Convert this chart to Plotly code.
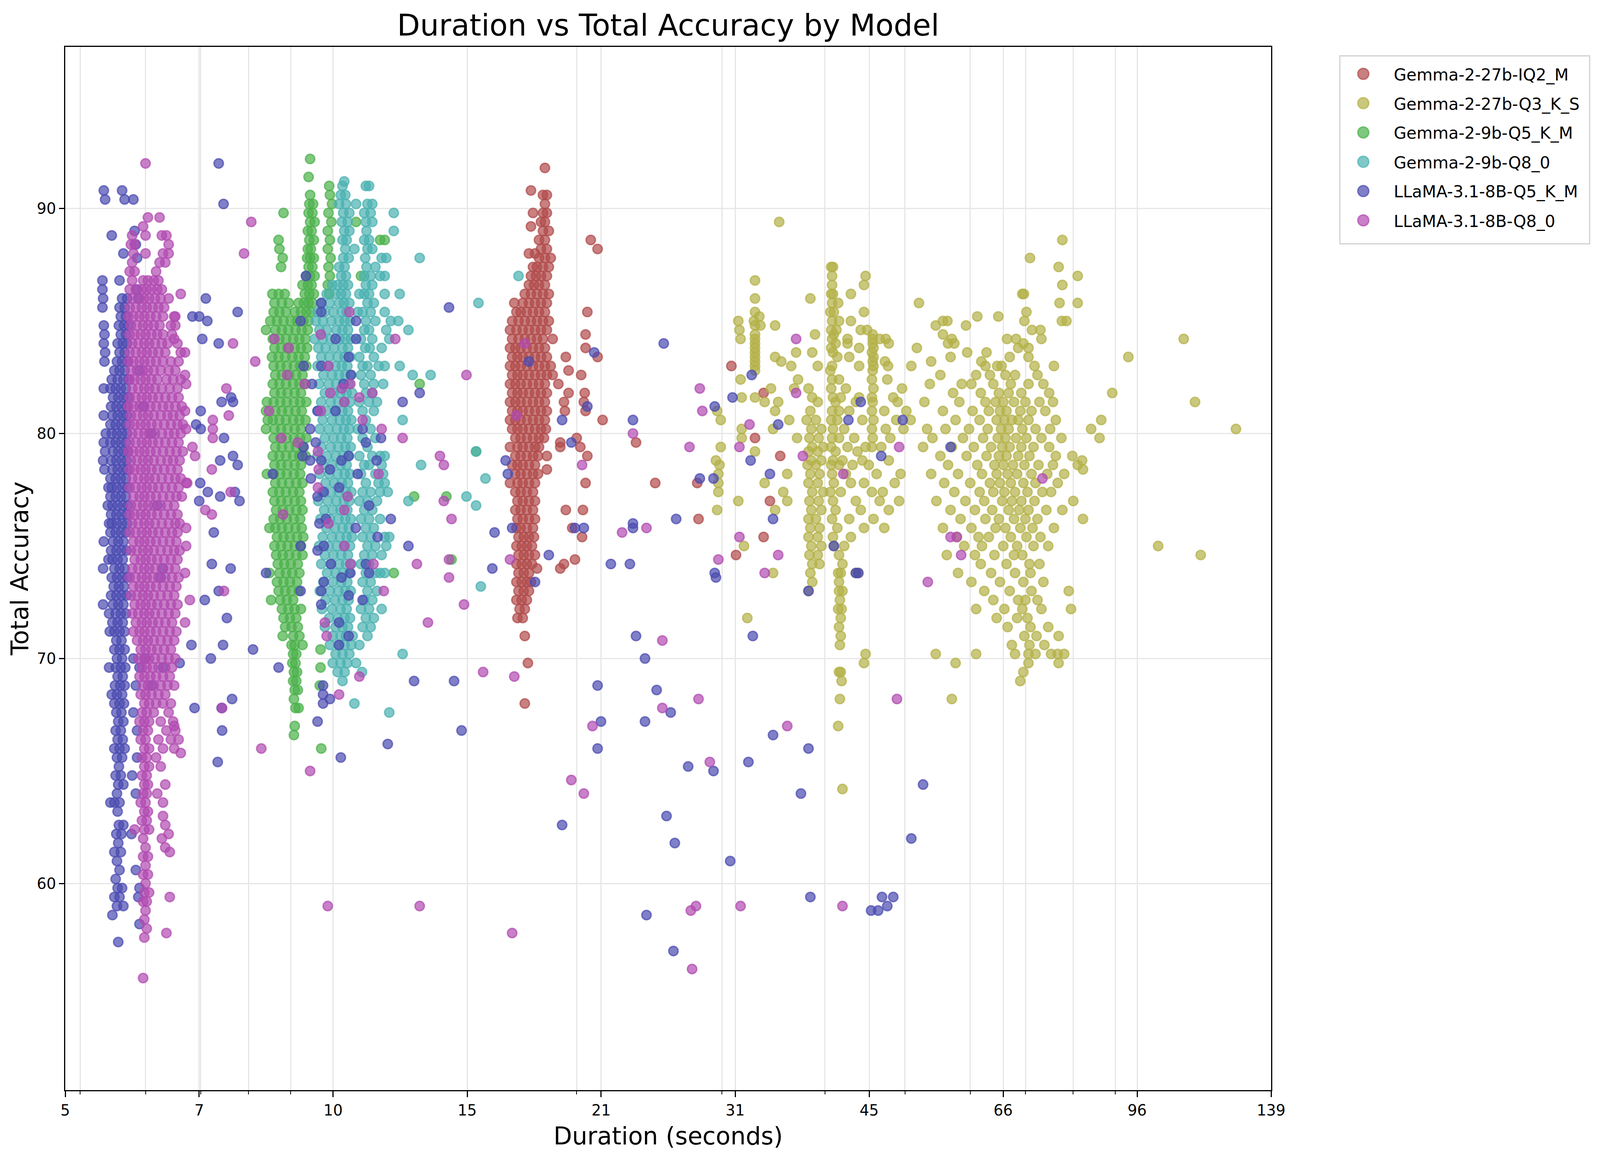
import plotly.graph_objects as go

MODELS = [
    "Gemma-2-27b-IQ2_M",
    "Gemma-2-27b-Q3_K_S",
    "Gemma-2-9b-Q5_K_M",
    "Gemma-2-9b-Q8_0",
    "LLaMA-3.1-8B-Q5_K_M",
    "LLaMA-3.1-8B-Q8_0",
]
COLORS = ["#b14a4a", "#b3b047", "#4ab14a", "#4ab1b1", "#4a4ab1", "#b14ab1"]

X_TICKS = [4.795, 6.97, 10.13, 14.73, 21.41, 31.13, 45.25, 65.78, 95.63, 139.0]
X_TICK_LABELS = ["5", "7", "10", "15", "21", "31", "45", "66", "96", "139"]
X_MINOR = [5, 6, 7, 8, 9, 20, 30, 40, 50, 60, 70, 80, 90]
Y_TICKS = [60, 70, 80, 90]

# rows are (total accuracy, [durations]); points are (duration, accuracy)
iq2_rows = [
    (91.8, [18.3]), (90.8, [17.6]), (90.6, [18.2, 18.4]), (90.2, [18.3]),
    (89.8, [17.7, 18.2, 18.4]), (89.4, [18.1, 18.3]), (89.2, [17.6]),
    (89.0, [18.2, 18.5]), (88.6, [18.0, 18.3, 20.8]), (88.2, [18.1, 18.4, 21.2]),
    (88.0, [17.5, 17.8]), (87.8, [18.0, 18.3, 18.6]), (87.4, [17.7, 17.9, 18.2, 18.5]),
    (87.0, [17.6, 17.85, 18.1, 18.4]), (86.6, [17.5, 17.75, 18.0, 18.3]),
    (86.2, [17.3, 17.6, 17.9, 18.2, 18.5]), (85.8, [16.8, 17.2, 17.5, 17.8, 18.1, 18.4]),
    (85.4, [16.9, 17.1, 17.4, 17.7, 18.0, 18.3, 20.6]),
    (85.0, [16.7, 17.0, 17.3, 17.6, 17.9, 18.2, 18.5]),
    (84.6, [16.6, 16.9, 17.2, 17.5, 17.8, 18.1, 18.4]),
    (84.2, [16.7, 17.0, 17.3, 17.6, 17.9, 18.2, 18.7]),
    (84.4, [20.5]), (83.8, [16.6, 16.85, 17.1, 17.4, 17.7, 18.0, 18.3, 20.5]),
    (83.4, [16.7, 16.95, 17.2, 17.5, 17.8, 18.1, 18.4, 19.4, 21.2]),
    (83.0, [16.6, 16.85, 17.1, 17.4, 17.7, 18.0, 18.3, 18.6, 30.8]),
    (82.8, [19.55]), (82.6, [16.7, 16.95, 17.2, 17.5, 17.8, 18.1, 18.4, 18.7, 20.25]),
    (82.2, [16.6, 16.85, 17.1, 17.4, 17.7, 18.0, 18.3, 19.0]),
    (81.8, [16.7, 16.95, 17.2, 17.5, 17.8, 18.1, 18.4, 19.55, 20.45, 33.7]),
    (81.4, [16.6, 16.85, 17.1, 17.4, 17.7, 18.0, 18.3, 19.3, 20.4]),
    (81.0, [16.7, 16.95, 17.2, 17.5, 17.8, 18.1, 18.4, 19.35, 20.5]),
    (80.6, [16.6, 16.85, 17.1, 17.4, 17.7, 18.0, 18.3, 21.5]),
    (80.2, [16.7, 16.95, 17.2, 17.5, 17.8, 18.1, 18.35]),
    (79.8, [16.85, 17.1, 17.4, 17.7, 18.0, 18.25, 20.0, 32.9]),
    (79.6, [19.1, 23.6]), (79.4, [16.6, 16.95, 17.2, 17.5, 17.8, 18.0, 19.1, 20.2]),
    (79.0, [16.85, 17.1, 17.4, 17.7, 17.95, 18.4, 20.6, 35.3]),
    (78.6, [16.7, 16.95, 17.2, 17.5, 17.8]), (78.4, [18.4]),
    (78.2, [16.85, 17.1, 17.4, 17.7, 17.95]),
    (77.8, [16.6, 16.95, 17.2, 17.5, 17.8, 20.5, 24.9, 28.0]),
    (77.4, [16.85, 17.1, 17.4, 17.7]), (77.0, [16.95, 17.2, 17.5, 17.8, 34.3]),
    (76.6, [16.85, 17.1, 17.4, 17.7, 19.4, 20.35]), (76.2, [16.95, 17.2, 17.5, 17.8, 28.1]),
    (75.8, [16.9, 17.1, 17.4, 17.7, 19.75]), (75.4, [17.0, 17.25, 17.5, 17.75, 20.3, 33.7]),
    (75.0, [16.9, 17.15, 17.4, 17.65]), (74.6, [17.0, 17.25, 17.5, 17.8, 31.2]),
    (74.4, [19.9]), (74.2, [16.9, 17.15, 17.4, 17.65, 19.3]),
    (74.0, [17.9, 19.1]), (73.8, [17.0, 17.25, 17.5]), (73.4, [16.9, 17.15, 17.4, 17.6]),
    (73.0, [17.0, 17.25, 17.5]), (72.6, [16.9, 17.15, 17.4]), (72.2, [17.05, 17.3]),
    (71.8, [16.95, 17.2]), (71.0, [17.3]), (69.8, [17.45]), (68.0, [17.3]),
]

q3_rows = [
    (89.4, [35.2]), (88.6, [77.6]), (87.8, [70.9]), (87.4, [40.7, 40.9, 76.8]),
    (87.0, [40.8, 44.8, 81.0]), (86.8, [32.9]), (86.6, [40.8, 44.6, 77.6]),
    (86.2, [40.7, 40.9, 43.0, 69.4, 69.7]), (86.0, [32.9, 38.4]),
    (85.8, [40.8, 41.5, 52.0, 77.0, 81.0]), (85.4, [32.9, 40.6, 41.0, 44.6, 70.2]),
    (85.2, [33.3, 61.2, 64.9]),
    (85.0, [31.4, 32.8, 40.8, 41.6, 43.0, 55.6, 56.3, 69.8, 77.5, 78.5]),
    (84.8, [32.9, 33.4, 34.8, 54.5, 59.3]),
    (84.6, [31.5, 40.7, 41.3, 44.2, 45.0, 71.3, 73.0]),
    (84.4, [32.9, 38.9, 41.0, 45.7, 55.6]),
    (84.2, [31.6, 32.9, 40.8, 42.6, 45.7, 46.6, 47.4, 57.0, 66.5, 68.2, 73.2, 108.9]),
    (84.0, [32.9, 41.2, 42.6, 45.7, 47.8, 56.4, 57.4, 69.6]),
    (83.8, [32.9, 40.7, 44.0, 45.8, 51.7, 68.6, 70.6]),
    (83.6, [32.9, 36.9, 38.6, 40.9, 45.6, 59.5, 62.8]),
    (83.4, [32.9, 34.8, 41.4, 42.8, 45.8, 56.8, 67.0, 70.6, 93.3]),
    (83.2, [32.9, 35.4, 45.7, 47.3, 53.8, 61.9]),
    (83.0, [32.9, 36.4, 39.2, 40.8, 44.0, 45.8, 47.7, 50.9, 62.6, 64.7, 65.5, 71.8, 75.8]),
    (82.8, [32.9, 40.6, 45.7]),
    (82.6, [55.2, 61.0, 63.4, 66.2, 68.0, 72.4]),
    (82.4, [31.6, 37.1, 40.8, 41.6, 45.6, 47.6]),
    (82.2, [53.6, 58.6, 60.2, 64.0, 67.2, 70.6, 73.6]),
    (82.0, [34.4, 36.7, 38.2, 40.7, 42.4, 45.8, 49.6]),
    (81.8, [57.2, 61.8, 65.0, 66.8, 69.2, 74.8, 89.2]),
    (81.6, [31.7, 32.9, 38.6, 40.9, 41.8, 44.0, 45.6, 48.4]),
    (81.4, [33.8, 35.1, 39.2, 41.2, 43.6, 45.7, 49.0, 52.8, 58.2, 62.6, 64.4, 65.8,
            67.8, 70.0, 72.8, 75.6, 112.4]),
    (81.0, [29.6, 34.8, 38.4, 40.8, 41.6, 42.8, 45.6, 47.2, 50.2, 55.6, 60.4, 63.2,
            65.2, 66.4, 69.0, 71.2, 74.0]),
    (80.6, [29.9, 36.2, 38.0, 39.0, 40.7, 41.4, 44.4, 45.8, 48.8, 50.8, 57.6, 61.6,
            64.6, 66.0, 67.4, 68.6, 70.6, 76.2, 86.5]),
    (80.2, [31.7, 34.6, 38.5, 39.6, 40.9, 42.2, 45.6, 47.4, 49.8, 53.2, 56.0, 59.8,
            63.0, 65.4, 66.8, 69.4, 72.0, 75.0, 84.1, 126.0]),
    (79.8, [31.7, 37.0, 38.3, 39.3, 40.8, 41.6, 43.4, 45.7, 48.0, 54.0, 58.8, 62.2,
            64.8, 66.2, 68.2, 70.2, 73.2, 77.4, 86.1]),
    (79.4, [29.9, 38.6, 39.8, 40.7, 42.6, 44.8, 45.6, 46.8, 52.6, 57.0, 60.6, 63.6,
            65.6, 67.0, 69.2, 71.6, 74.8]),
    (79.2, [32.9, 38.2, 39.2, 41.2, 43.8]),
    (79.0, [55.2, 59.4, 62.8, 65.0, 66.4, 68.6, 70.8, 76.2, 79.8]),
    (78.8, [29.5, 38.5, 39.6, 40.9, 42.0, 44.4, 47.8, 82.0]),
    (78.6, [29.8, 38.1, 39.0, 40.7, 41.6, 43.2, 45.2, 56.4, 61.2, 64.2, 65.8, 67.6,
            69.8, 72.6, 75.6, 81.0]),
    (78.4, [82.2]),
    (78.2, [29.7, 36.0, 38.4, 39.4, 40.8, 42.4, 46.2, 49.4, 53.8, 58.0, 62.0, 64.6,
            66.6, 68.4, 71.2, 74.4, 78.0]),
    (77.8, [29.7, 33.8, 38.2, 39.2, 41.0, 43.0, 44.6, 48.6, 55.8, 60.0, 63.4, 65.2,
            67.2, 69.6, 72.0, 76.6]),
    (77.4, [29.7, 35.6, 38.6, 39.8, 40.6, 41.8, 45.6, 47.0, 57.4, 61.6, 64.0, 66.0,
            68.0, 70.4, 73.4, 75.2]),
    (77.0, [31.4, 36.0, 38.3, 39.3, 40.9, 43.6, 46.6, 49.2, 54.6, 59.2, 62.4, 65.6,
            67.4, 69.2, 71.8, 80.0]),
    (76.6, [29.6, 34.8, 38.5, 39.6, 41.2, 44.2, 47.8, 56.8, 60.8, 63.8, 66.8, 68.8,
            70.6, 74.2, 77.6]),
    (76.2, [38.2, 39.0, 40.8, 42.8, 45.8, 58.4, 62.6, 65.0, 67.8, 70.0, 72.4, 82.2]),
    (75.8, [38.4, 39.4, 41.4, 44.6, 47.2, 55.6, 60.2, 64.4, 66.2, 69.0, 71.4, 75.8]),
    (75.4, [38.2, 39.2, 40.9, 43.0, 57.8, 61.4, 63.2, 67.2, 70.2, 73.0]),
    (75.0, [31.9, 38.5, 39.6, 41.0, 42.2, 59.0, 62.0, 65.8, 68.4, 71.6, 74.6, 101.4]),
    (74.6, [38.3, 39.2, 41.6, 56.2, 60.8, 64.2, 67.8, 69.4, 114.2]),
    (74.2, [38.6, 39.4, 42.0, 61.8, 66.4, 70.8, 72.8]),
    (73.8, [34.6, 38.4, 41.5, 41.8, 43.6, 43.9, 58.0, 63.6, 68.0, 71.0]),
    (73.4, [38.6, 41.6, 60.2, 65.2, 69.6, 73.6]),
    (73.0, [38.2, 41.6, 42.0, 62.4, 67.0, 71.2, 79.0]),
    (72.6, [41.7, 64.0, 68.6, 70.0, 72.4]),
    (72.2, [41.5, 41.9, 61.0, 66.0, 69.4, 73.2, 79.5]),
    (71.8, [32.2, 41.8, 64.6, 68.4, 70.4]),
    (71.4, [41.6, 66.6, 71.0, 74.6]),
    (71.0, [41.8, 69.8, 72.2, 76.8]),
    (70.6, [41.7, 67.4, 70.8, 73.8]),
    (70.2, [44.8, 54.5, 61.0, 68.0, 70.6, 72.0, 75.2, 76.6, 78.0]),
    (69.8, [44.6, 57.6, 70.6, 76.8]),
    (69.4, [41.6, 41.8, 69.6]), (69.0, [41.9, 69.0]), (68.2, [41.7, 57.0]),
    (67.0, [41.5]), (64.2, [42.0]),
]

q5_9b_rows = [
    (92.2, [9.50]), (91.4, [9.46]), (91.0, [10.02]), (90.6, [9.50, 10.04]),
    (90.2, [9.48, 9.58, 10.10]), (89.8, [8.82, 9.46, 9.56, 10.00]),
    (89.4, [9.50, 9.62, 10.08, 10.80]), (89.0, [9.44, 9.54, 9.98]),
    (88.6, [8.70, 9.48, 9.60, 10.04, 11.55, 11.70]), (88.2, [8.72, 9.44, 9.52, 9.98]),
    (87.8, [8.80, 9.42, 9.50, 9.60, 10.06]), (87.4, [8.76, 9.46, 9.56, 10.00]),
    (87.0, [9.40, 9.50, 9.62, 10.04, 10.95]), (86.6, [9.30, 9.44, 9.54, 9.98]),
    (86.2, [8.55, 8.70, 8.85, 9.36, 9.48, 9.60, 10.02]),
    (85.8, [8.60, 8.78, 8.95, 9.20, 9.34, 9.46, 9.56]),
    (85.4, [8.58, 8.72, 8.88, 9.10, 9.26, 9.40, 9.52]),
    (85.0, [8.50, 8.66, 8.82, 9.00, 9.16, 9.32, 9.46]),
    (84.6, [8.40, 8.62, 8.78, 8.94, 9.12, 9.28, 9.44]),
    (84.2, [8.56, 8.72, 8.88, 9.06, 9.22, 9.38]),
    (83.8, [8.60, 8.76, 8.92, 9.10, 9.26, 9.42]),
    (83.4, [8.54, 8.70, 8.86, 9.04, 9.20, 9.36]),
    (83.0, [8.58, 8.74, 8.90, 9.08, 9.24, 9.40]),
    (82.6, [8.62, 8.78, 8.96, 9.14, 9.30]),
    (82.2, [8.56, 8.72, 8.88, 9.06, 9.22, 9.38, 12.9]),
    (81.8, [8.60, 8.76, 8.92, 9.10, 9.26]),
    (81.4, [8.42, 8.58, 8.74, 8.90, 9.08, 9.24, 9.40]),
    (81.0, [8.40, 8.62, 8.78, 8.94, 9.12, 9.28]),
    (80.6, [8.44, 8.56, 8.72, 8.88, 9.06, 9.22, 9.38]),
    (80.2, [8.40, 8.60, 8.76, 8.92, 9.10, 9.26]),
    (79.8, [8.58, 8.74, 8.90, 9.08, 9.24, 9.40]),
    (79.4, [8.62, 8.78, 8.96, 9.14, 9.30]),
    (79.2, [15.1]),
    (79.0, [8.56, 8.72, 8.88, 9.06, 9.22, 9.38]),
    (78.6, [8.60, 8.76, 8.92, 9.10, 9.26]),
    (78.2, [8.42, 8.58, 8.74, 8.90, 9.08, 9.24]),
    (77.8, [8.62, 8.78, 8.96, 9.14, 9.30]),
    (77.4, [8.56, 8.72, 8.88, 9.06, 9.22]),
    (77.2, [12.7, 13.9]),
    (77.0, [8.60, 8.76, 8.92, 9.10, 9.26]),
    (76.6, [8.64, 8.80, 8.96, 9.14, 9.30]),
    (76.2, [8.58, 8.74, 8.90, 9.08, 9.24]),
    (75.8, [8.48, 8.62, 8.78, 8.94, 9.12, 9.28]),
    (75.4, [8.66, 8.82, 8.98, 9.16, 9.32]),
    (75.0, [8.60, 8.76, 8.92, 9.10, 9.26]),
    (74.6, [8.64, 8.80, 8.96, 9.14, 9.30]),
    (74.4, [14.1]),
    (74.2, [8.68, 8.84, 9.00, 9.18]),
    (73.8, [8.48, 8.72, 8.88, 9.04, 9.22, 12.0]),
    (73.4, [8.66, 8.82, 8.98, 9.16]),
    (73.0, [8.70, 8.86, 9.02, 9.20]),
    (72.6, [8.52, 8.74, 8.90, 9.06]),
    (72.2, [8.78, 8.94, 9.10, 9.26]),
    (71.8, [8.82, 8.98, 9.14]), (71.4, [8.86, 9.02, 9.18]), (71.0, [8.80, 9.06, 9.22]),
    (70.6, [9.02, 9.10, 9.30]), (70.4, [9.78]), (70.2, [9.06, 9.14]),
    (69.8, [9.04, 9.12]), (69.6, [9.78]), (69.4, [9.08, 9.16]), (69.0, [9.06, 9.14]),
    (68.8, [9.76]), (68.6, [9.10, 9.18]), (68.2, [9.08]), (67.8, [9.12, 9.20]),
    (67.0, [9.10]), (66.6, [9.08]), (66.0, [9.80]),
]

q8_9b_rows = [
    (91.2, [10.45]), (91.0, [10.40, 11.10, 11.20]), (90.6, [10.35, 10.48]),
    (90.2, [10.30, 10.50, 10.80, 11.15, 11.30]),
    (89.8, [10.42, 10.60, 11.05, 11.25, 12.00]),
    (89.4, [10.38, 10.55, 11.10, 11.30]), (89.0, [10.45, 10.60, 11.12, 12.00]),
    (88.6, [10.40, 10.52, 11.05, 11.20]), (88.2, [10.48, 10.75, 11.15, 11.30]),
    (87.8, [10.42, 10.58, 11.08, 11.60, 11.75, 12.90]),
    (87.4, [10.30, 10.46, 11.12, 11.40]),
    (87.0, [10.36, 10.50, 11.05, 11.25, 11.55, 11.70, 17.0]),
    (86.6, [10.10, 10.26, 10.42, 10.56, 11.10, 11.30]),
    (86.2, [9.95, 10.20, 10.36, 10.50, 10.90, 11.05, 11.20, 11.70, 12.20]),
    (85.8, [9.80, 10.04, 10.30, 10.44, 10.60, 11.15, 11.35, 15.20]),
    (85.4, [9.70, 9.90, 10.14, 10.38, 10.52, 10.85, 11.00, 11.25, 11.70]),
    (85.0, [9.65, 9.85, 10.08, 10.30, 10.46, 10.62, 11.10, 11.40, 11.90, 12.15]),
    (84.6, [9.75, 9.95, 10.22, 10.40, 10.56, 11.05, 11.20, 11.75, 12.50]),
    (84.2, [9.62, 9.84, 10.06, 10.32, 10.48, 10.64, 10.95, 11.30, 11.85]),
    (83.8, [9.72, 9.92, 10.16, 10.40, 10.56, 11.08, 11.22, 11.60]),
    (83.4, [9.80, 10.02, 10.26, 10.46, 10.62, 10.90, 11.35]),
    (83.0, [9.70, 9.96, 10.20, 10.38, 10.54, 11.00, 11.15, 11.50, 11.70, 12.20]),
    (82.6, [9.86, 10.10, 10.30, 10.48, 10.64, 10.95, 11.25, 12.65, 13.30]),
    (82.2, [9.74, 10.00, 10.22, 10.42, 10.58, 11.05, 11.35, 11.65]),
    (81.8, [9.90, 10.14, 10.34, 10.52, 10.68, 11.10, 11.30]),
    (81.4, [9.80, 10.06, 10.28, 10.46, 10.62, 10.90, 11.20, 11.45]),
    (81.0, [9.70, 9.94, 10.18, 10.40, 10.56, 11.00, 11.35]),
    (80.6, [9.84, 10.10, 10.32, 10.50, 10.66, 11.10, 12.30]),
    (80.2, [9.76, 10.00, 10.24, 10.44, 10.60, 10.85, 11.25]),
    (79.8, [9.90, 10.14, 10.36, 10.54, 11.00, 11.40]),
    (79.4, [9.80, 10.06, 10.28, 10.48, 10.64, 11.15]),
    (79.2, [15.1]),
    (79.0, [9.70, 9.96, 10.20, 10.42, 10.58, 10.90, 11.30, 11.55, 11.70]),
    (78.6, [9.86, 10.10, 10.34, 10.52, 11.05, 11.20, 11.60, 12.95]),
    (78.2, [9.76, 10.02, 10.26, 10.46, 10.62, 10.95, 11.40, 11.65]),
    (78.0, [15.5]),
    (77.8, [9.92, 10.16, 10.38, 10.56, 11.10, 11.50, 11.70]),
    (77.4, [9.82, 10.08, 10.30, 10.50, 10.66, 11.00, 11.25, 11.55, 11.80]),
    (77.2, [14.7]),
    (77.0, [9.72, 9.98, 10.22, 10.44, 10.60, 10.90, 11.15, 11.45, 12.50]),
    (76.8, [15.1]),
    (76.6, [9.88, 10.12, 10.34, 10.54, 11.05, 11.30]),
    (76.2, [9.78, 10.04, 10.28, 10.48, 10.64, 10.95, 11.20, 11.55]),
    (75.8, [9.94, 10.18, 10.40, 10.58, 11.10, 11.35]),
    (75.4, [9.84, 10.10, 10.32, 10.52, 10.68, 11.00, 11.25, 11.70, 11.85]),
    (75.0, [9.74, 10.00, 10.24, 10.46, 10.62, 11.15, 11.40, 11.75]),
    (74.6, [9.90, 10.14, 10.36, 10.56, 11.05, 11.30, 11.60]),
    (74.2, [9.80, 10.06, 10.30, 10.50, 10.66, 10.95, 11.20]),
    (73.8, [9.96, 10.20, 10.42, 10.60, 11.10, 11.40, 11.55, 11.70]),
    (73.4, [9.86, 10.12, 10.36, 10.54, 11.00, 11.25]),
    (73.2, [15.3]),
    (73.0, [9.76, 10.04, 10.28, 10.48, 10.64, 11.15, 11.45]),
    (72.6, [9.92, 10.18, 10.40, 10.58, 11.05, 11.30]),
    (72.2, [9.82, 10.10, 10.34, 10.52, 10.95, 11.20, 11.60]),
    (71.8, [10.02, 10.26, 10.46, 10.62, 11.10, 11.35]),
    (71.4, [9.90, 10.20, 10.40, 10.56, 11.00, 11.25]),
    (71.0, [10.12, 10.34, 10.50, 10.70, 11.15]),
    (70.6, [10.04, 10.28, 10.46, 10.66, 10.90]),
    (70.2, [10.20, 10.40, 10.60, 12.30]),
    (69.8, [10.12, 10.34, 10.54, 10.80]),
    (69.4, [10.26, 10.46, 10.98]), (69.0, [10.40]), (68.0, [10.75]), (67.6, [11.85]),
]

llama_q5_rows = [
    (90.8, [5.34, 5.62]), (90.4, [5.36, 5.66, 5.80]), (89.0, [5.82]), (88.8, [5.46]),
    (88.4, [5.84]), (88.0, [5.64]), (87.8, [5.86]), (86.8, [5.32, 5.58]),
    (86.4, [5.32, 5.86]), (86.0, [5.33, 5.62, 5.70, 5.88]), (85.6, [5.32, 5.58, 5.66]),
    (85.2, [5.60, 5.68]), (84.8, [5.34, 5.57, 5.65, 5.72]), (84.4, [5.35, 5.60, 5.68]),
    (84.0, [5.34, 5.55, 5.63, 5.70]), (83.6, [5.36, 5.58, 5.66]),
    (83.2, [5.35, 5.54, 5.62, 5.70]), (82.8, [5.50, 5.58, 5.66, 5.90]),
    (82.4, [5.46, 5.55, 5.64, 5.72]), (82.0, [5.34, 5.44, 5.52, 5.60, 5.68]),
    (81.6, [5.48, 5.56, 5.64, 5.71]), (81.2, [5.45, 5.53, 5.61, 5.69, 5.96]),
    (80.8, [5.34, 5.47, 5.55, 5.63, 5.70]), (80.4, [5.44, 5.52, 5.60, 5.68]),
    (80.0, [5.37, 5.46, 5.54, 5.62, 5.70, 6.10]), (79.6, [5.34, 5.44, 5.52, 5.60, 5.68]),
    (79.2, [5.36, 5.48, 5.56, 5.64, 5.71]), (78.8, [5.33, 5.45, 5.53, 5.61, 5.69]),
    (78.4, [5.35, 5.47, 5.55, 5.63, 5.70]), (78.0, [5.44, 5.52, 5.60, 5.68]),
    (77.6, [5.41, 5.46, 5.54, 5.62, 5.70]), (77.2, [5.44, 5.52, 5.60, 5.68]),
    (76.8, [5.40, 5.47, 5.55, 5.63, 5.71, 6.20]), (76.4, [5.45, 5.53, 5.61, 5.69]),
    (76.0, [5.42, 5.46, 5.54, 5.62, 5.70]), (75.6, [5.44, 5.52, 5.60, 5.68]),
    (75.2, [5.34, 5.48, 5.56, 5.64]), (74.8, [5.45, 5.53, 5.61, 5.69]),
    (74.4, [5.41, 5.47, 5.55, 5.63]), (74.0, [5.33, 5.50, 5.58, 5.66, 6.30]),
    (73.6, [5.46, 5.54, 5.62, 5.70, 6.26]), (73.2, [5.49, 5.57, 5.65]),
    (72.8, [5.45, 5.53, 5.61, 5.69]), (72.4, [5.33, 5.48, 5.56, 5.64]),
    (72.0, [5.42, 5.52, 5.60, 5.68]), (71.6, [5.47, 5.55, 5.63]),
    (71.2, [5.43, 5.50, 5.58, 5.66]), (70.8, [5.53, 5.61]), (70.4, [5.50, 5.58, 5.66]),
    (70.0, [5.54, 5.62, 5.80, 6.00]), (69.6, [5.42, 5.52, 5.60, 5.67, 5.90, 6.30]),
    (69.2, [5.55, 5.63]), (68.8, [5.51, 5.59, 5.66, 5.84, 6.10]),
    (68.4, [5.46, 5.54, 5.62]), (68.0, [5.50, 5.58, 5.65]), (67.6, [5.53, 5.61, 5.80]),
    (67.2, [5.56, 5.64]), (66.8, [5.52, 5.60, 5.86]), (66.4, [5.55, 5.63]),
    (66.0, [5.50, 5.58, 5.66]), (65.6, [5.54, 5.62, 5.86]), (65.2, [5.57]),
    (64.8, [5.52, 5.60, 5.78]), (64.4, [5.56, 5.64]), (64.0, [5.54, 5.84]),
    (63.6, [5.44, 5.50, 5.58]), (63.2, [5.55]), (62.6, [5.57, 5.64]),
    (62.2, [5.53, 5.61, 5.77]), (61.8, [5.56]), (61.4, [5.50, 5.60]), (61.0, [5.54]),
    (60.6, [5.58, 5.84]), (60.2, [5.52]), (59.8, [5.55, 5.62, 5.90]),
    (59.4, [5.50, 5.58, 5.88]), (59.0, [5.54, 5.64]), (58.6, [5.47]), (58.2, [5.90]),
    (57.4, [5.56]),
]

llama_q5_points = [
    (7.36, 92.0), (7.46, 90.2), (7.10, 86.0), (6.84, 85.2), (6.97, 85.2), (7.13, 85.0),
    (7.76, 85.4), (7.03, 84.2), (7.36, 84.0), (7.42, 81.4), (7.62, 81.6), (7.66, 81.4),
    (7.00, 81.0), (6.91, 80.4), (7.00, 80.2), (7.47, 79.8), (7.39, 78.8), (7.66, 79.0),
    (7.76, 78.6), (6.99, 77.8), (7.14, 77.4), (7.39, 77.2), (6.97, 77.0), (7.70, 77.4),
    (7.80, 77.0), (7.26, 75.6), (7.22, 74.2), (7.61, 74.0), (7.36, 73.0), (7.08, 72.6),
    (7.53, 71.8), (6.82, 70.6), (7.20, 70.0), (7.45, 70.6), (8.10, 70.4), (6.88, 67.8),
    (7.64, 68.2), (7.42, 67.8), (7.43, 66.8), (7.34, 65.4), (6.60, 69.8),
    (8.40, 73.8), (8.56, 78.2), (8.70, 69.6), (9.39, 87.0), (9.25, 85.0), (9.80, 85.8),
    (9.80, 85.4), (10.20, 84.2), (10.80, 85.0), (10.80, 84.2), (10.58, 83.4), (9.33, 83.0),
    (9.80, 83.0), (10.65, 82.6), (9.55, 82.2), (10.43, 82.2), (9.70, 81.0), (10.20, 81.0),
    (9.50, 80.2), (11.00, 80.2), (11.58, 79.8), (11.10, 79.6), (9.65, 79.6), (9.33, 79.4),
    (9.30, 79.0), (10.37, 78.8), (10.58, 79.0), (11.44, 78.8), (9.50, 78.8), (9.80, 78.8),
    (10.04, 78.4), (9.52, 78.0), (10.85, 78.2), (9.87, 77.4), (9.70, 77.2), (10.30, 77.6),
    (11.20, 76.8), (11.90, 76.2), (9.75, 76.0), (9.93, 76.2), (10.79, 75.8), (11.47, 75.4),
    (9.25, 75.0), (9.70, 74.8), (9.87, 75.0), (10.07, 74.2), (11.10, 74.2), (12.50, 75.0),
    (10.63, 73.8), (10.37, 73.6), (9.87, 73.4), (9.80, 73.0), (11.20, 73.8), (9.25, 73.0),
    (10.58, 72.8), (11.00, 72.6), (9.80, 72.4), (10.30, 71.6), (10.58, 71.0), (10.30, 70.6),
    (12.30, 81.4), (12.90, 81.8), (14.00, 85.6), (15.90, 75.6), (15.80, 74.0), (16.40, 78.8),
    (16.50, 78.2), (16.70, 75.8), (12.70, 69.0), (14.20, 69.0), (14.50, 66.8), (11.80, 66.2),
    (10.35, 65.6), (9.70, 67.2), (9.85, 68.8), (9.85, 68.4), (9.85, 68.0), (10.04, 68.2),
    (17.50, 83.2), (17.80, 73.4), (18.50, 74.6), (19.20, 80.6), (19.70, 79.6), (20.60, 81.2),
    (21.00, 83.6), (19.90, 75.8), (20.40, 75.8), (19.20, 62.6), (21.20, 68.8), (21.40, 67.2),
    (21.20, 66.0), (22.00, 74.2), (23.20, 74.2), (23.40, 80.6), (23.40, 76.0), (23.40, 75.8),
    (23.60, 71.0), (24.20, 70.0), (24.20, 67.2), (24.30, 58.6), (25.00, 68.6), (25.50, 84.0),
    (26.00, 67.6), (25.70, 63.0), (26.30, 61.8), (26.20, 57.0), (26.40, 76.2), (27.30, 65.2),
    (28.20, 78.0), (29.30, 78.0), (29.40, 81.2), (29.40, 73.8), (29.50, 73.6), (29.30, 65.0),
    (30.70, 61.0), (30.90, 81.6), (32.50, 78.8), (32.30, 65.4), (32.70, 71.0), (32.60, 82.6),
    (35.10, 80.4), (34.30, 78.2), (34.60, 76.2), (41.00, 75.0), (42.70, 80.6), (44.20, 81.4),
    (46.80, 79.0), (49.70, 80.6), (56.80, 79.4), (43.60, 73.8), (43.90, 73.8), (38.20, 73.0),
    (34.60, 66.6), (38.20, 66.0), (37.40, 64.0), (52.60, 64.4), (50.90, 62.0), (38.40, 59.4),
    (46.90, 59.4), (48.40, 59.4), (47.60, 59.0), (45.50, 58.8), (46.40, 58.8),
]

llama_q8_rows = [
    (92.0, [6.00]), (89.6, [6.04, 6.24]), (89.2, [5.96]), (88.8, [5.78, 6.00, 6.28, 6.36]),
    (88.4, [5.76, 5.82, 6.40]), (88.0, [5.80, 6.00, 6.30, 6.40]), (87.6, [5.78, 6.24, 6.34]),
    (87.2, [5.74, 5.82, 6.18]), (86.8, [5.78, 5.96, 6.04, 6.14, 6.22]),
    (86.4, [5.74, 5.84, 5.94, 6.02, 6.10, 6.20, 6.28]),
    (86.2, [6.62]),
    (86.0, [5.78, 5.90, 5.98, 6.06, 6.16, 6.26, 6.40]),
    (85.6, [5.74, 5.84, 5.94, 6.02, 6.12, 6.22, 6.32]),
    (85.2, [5.72, 5.80, 5.90, 5.98, 6.08, 6.18, 6.30, 6.50, 6.52]),
    (84.8, [5.76, 5.86, 5.96, 6.04, 6.14, 6.24, 6.44, 6.52]),
    (84.4, [5.74, 5.82, 5.92, 6.00, 6.10, 6.20, 6.30, 6.46]),
    (84.2, [6.50]),
    (84.0, [5.78, 5.88, 5.98, 6.06, 6.16, 6.28, 6.38, 6.56, 7.66]),
    (83.6, [5.74, 5.84, 5.94, 6.02, 6.12, 6.22, 6.34, 6.62, 6.70]),
    (83.2, [5.72, 5.80, 5.90, 5.98, 6.08, 6.18, 6.30, 6.44, 6.58, 8.15]),
    (82.8, [5.76, 5.86, 5.96, 6.04, 6.14, 6.26, 6.40, 6.52]),
    (82.6, [6.70]),
    (82.4, [5.74, 5.82, 5.92, 6.00, 6.10, 6.20, 6.36, 6.48, 6.62]),
    (82.2, [6.72]),
    (82.0, [5.78, 5.88, 5.98, 6.06, 6.16, 6.28, 6.42, 6.56, 7.52]),
    (81.6, [5.74, 5.84, 5.94, 6.02, 6.12, 6.22, 6.34, 6.46, 6.58]),
    (81.2, [5.72, 5.80, 5.90, 5.98, 6.08, 6.18, 6.30, 6.40, 6.52, 6.64]),
    (81.0, [6.70]),
    (80.8, [5.76, 5.86, 5.96, 6.04, 6.14, 6.26, 6.38, 6.48, 6.60, 7.57]),
    (80.6, [7.24]),
    (80.4, [5.74, 5.82, 5.92, 6.00, 6.10, 6.20, 6.32, 6.44, 6.56, 6.66]),
    (80.2, [6.72, 7.24]),
    (80.0, [5.78, 5.88, 5.98, 6.06, 6.16, 6.28, 6.40, 6.50, 6.62]),
    (79.8, [7.24]),
    (79.6, [5.74, 5.84, 5.94, 6.02, 6.12, 6.22, 6.34, 6.46, 6.58]),
    (79.4, [6.84]),
    (79.2, [5.72, 5.80, 5.90, 5.98, 6.08, 6.18, 6.30, 6.42, 6.54, 6.66]),
    (79.0, [6.89]),
    (78.8, [5.76, 5.86, 5.96, 6.04, 6.14, 6.26, 6.38, 6.48, 6.60]),
    (78.4, [5.74, 5.82, 5.92, 6.00, 6.10, 6.20, 6.32, 6.44, 6.56, 7.22]),
    (78.0, [5.78, 5.88, 5.98, 6.06, 6.16, 6.28, 6.40, 6.52, 6.62]),
    (77.8, [6.72, 6.74]),
    (77.6, [5.74, 5.84, 5.94, 6.02, 6.12, 6.22, 6.34, 6.46, 6.58]),
    (77.4, [7.61]),
    (77.2, [5.80, 5.90, 5.98, 6.08, 6.18, 6.30, 6.42, 6.54, 6.64]),
    (76.8, [5.76, 5.86, 5.96, 6.04, 6.14, 6.26, 6.38, 6.50]),
    (76.6, [7.09]),
    (76.4, [5.74, 5.82, 5.92, 6.00, 6.10, 6.20, 6.32, 6.44, 6.56, 7.22]),
    (76.0, [5.78, 5.88, 5.98, 6.06, 6.16, 6.28, 6.40, 6.52, 6.60]),
    (75.8, [6.72]),
    (75.6, [5.74, 5.84, 5.94, 6.02, 6.12, 6.22, 6.34, 6.46, 6.56]),
    (75.2, [5.80, 5.90, 5.98, 6.08, 6.18, 6.30, 6.42, 6.54]),
    (75.0, [6.72]),
    (74.8, [5.76, 5.86, 5.96, 6.04, 6.14, 6.26, 6.38, 6.50, 6.60]),
    (74.4, [5.82, 5.92, 6.00, 6.10, 6.20, 6.32, 6.44, 6.56]),
    (74.0, [5.78, 5.88, 5.98, 6.06, 6.16, 6.28, 6.40, 6.52]),
    (73.8, [6.70]),
    (73.6, [5.74, 5.84, 5.94, 6.02, 6.12, 6.22, 6.34, 6.46, 6.58]),
    (73.2, [5.80, 5.90, 5.98, 6.08, 6.18, 6.30, 6.42, 6.54]),
    (73.0, [7.47]),
    (72.8, [5.76, 5.86, 5.96, 6.04, 6.14, 6.26, 6.38, 6.50]),
    (72.6, [6.79]),
    (72.4, [5.82, 5.92, 6.00, 6.10, 6.20, 6.32, 6.44, 6.56]),
    (72.0, [5.78, 5.88, 5.98, 6.06, 6.16, 6.28, 6.40, 6.52]),
    (71.6, [5.84, 5.94, 6.02, 6.12, 6.22, 6.34, 6.46, 6.70]),
    (71.2, [5.80, 5.90, 5.98, 6.08, 6.18, 6.30, 6.42, 6.54]),
    (70.8, [5.86, 5.96, 6.04, 6.14, 6.26, 6.38, 6.50]),
    (70.4, [5.92, 6.00, 6.10, 6.20, 6.32, 6.44]),
    (70.0, [5.88, 5.98, 6.06, 6.16, 6.28, 6.40, 6.52]),
    (69.6, [5.94, 6.02, 6.12, 6.22, 6.34, 6.46]),
    (69.2, [5.90, 5.98, 6.08, 6.18, 6.30, 6.42]),
    (68.8, [5.96, 6.04, 6.14, 6.26, 6.38, 6.50]),
    (68.4, [5.92, 6.00, 6.10, 6.22, 6.34]),
    (68.0, [5.98, 6.06, 6.18, 6.30, 6.44]),
    (67.8, [7.43]),
    (67.6, [5.94, 6.02, 6.14, 6.40]),
    (67.2, [5.90, 5.98, 6.06, 6.26, 6.48]),
    (67.0, [6.50]),
    (66.8, [5.96, 6.04, 6.36, 6.52]),
    (66.4, [5.92, 6.00, 6.22, 6.44, 6.58]),
    (66.0, [5.98, 6.06, 6.30, 6.50]),
    (65.8, [6.62]),
    (65.6, [5.94, 6.02, 6.18]), (65.2, [5.98, 6.06, 6.26]), (64.8, [5.94, 6.02]),
    (64.4, [5.98, 6.04, 6.34]), (64.0, [5.96, 6.02, 6.20]), (63.6, [5.92, 6.00, 6.30]),
    (63.2, [5.98, 6.04]), (63.0, [6.30]), (62.8, [5.94, 6.02]), (62.6, [6.34]),
    (62.4, [5.82, 5.98, 6.06]), (62.2, [6.40]), (62.0, [5.96, 6.28]), (61.6, [6.00, 6.34]),
    (61.4, [6.42]), (61.2, [5.96, 6.04]), (60.8, [6.00]), (60.4, [5.96, 6.04]),
    (60.0, [6.00]), (59.6, [5.98, 6.06]), (59.4, [6.42]), (59.2, [5.96, 6.02]),
    (58.8, [6.00]), (58.4, [5.98]), (58.0, [6.02]), (57.8, [6.36]), (57.6, [5.98]),
    (55.8, [5.96]),
]

llama_q8_points = [
    (7.90, 88.0), (8.06, 89.4),
    (8.47, 81.0), (8.60, 84.2), (8.95, 83.8), (8.91, 82.6), (8.77, 79.8), (9.18, 79.6),
    (9.35, 82.2), (8.81, 76.4), (9.79, 84.4), (10.00, 83.0), (10.05, 81.8), (9.79, 81.0),
    (9.71, 79.2), (9.73, 78.4), (9.71, 77.6), (10.00, 76.0), (10.38, 82.0), (10.45, 81.4),
    (10.60, 85.4), (10.63, 82.2), (10.90, 81.6), (11.00, 80.6), (10.55, 77.2), (10.45, 76.6),
    (10.45, 75.0), (10.63, 74.2), (11.34, 74.2), (11.30, 81.8), (11.50, 78.2), (11.60, 80.2),
    (12.05, 84.2), (12.30, 79.8), (11.67, 73.0), (9.90, 71.6), (9.95, 71.0), (10.90, 69.2),
    (10.30, 68.4), (9.50, 65.0), (8.29, 66.0), (9.98, 59.0), (12.80, 74.2), (13.20, 71.6),
    (12.90, 59.0), (13.65, 79.0), (13.80, 78.6), (13.80, 77.0), (14.10, 76.2), (14.00, 74.4),
    (14.00, 73.6), (14.60, 72.4), (14.70, 82.6), (15.40, 69.4), (16.70, 57.8), (16.80, 69.2),
    (16.60, 74.4), (17.30, 84.0), (16.90, 80.8), (20.30, 78.6), (19.70, 64.6), (20.40, 64.0),
    (20.90, 67.0), (22.70, 75.6), (23.40, 80.0), (24.30, 75.8), (25.40, 70.8), (25.40, 67.8),
    (27.40, 79.4), (28.20, 82.0), (28.40, 81.0), (28.10, 68.2), (29.00, 65.4), (27.50, 58.8),
    (27.90, 59.0), (27.60, 56.2), (29.70, 74.4), (31.50, 75.4), (31.60, 59.0), (31.50, 79.4),
    (32.40, 80.4), (36.90, 84.2), (36.90, 81.8), (37.60, 79.0), (42.10, 78.2), (49.20, 79.4),
    (35.10, 74.6), (33.80, 73.8), (56.80, 75.4), (57.80, 75.4), (58.50, 74.6), (53.30, 73.4),
    (73.40, 78.0), (48.90, 68.2), (36.00, 67.0), (42.00, 59.0),
]


def expand(rows, points=()):
    durations, accuracies = [], []
    for acc, values in rows:
        for d in values:
            durations.append(d)
            accuracies.append(acc)
    for d, acc in points:
        durations.append(d)
        accuracies.append(acc)
    return durations, accuracies


def rgba(hex_color, alpha):
    r, g, b = (int(hex_color[i:i + 2], 16) for i in (1, 3, 5))
    return f"rgba({r},{g},{b},{alpha})"


series = [
    expand(iq2_rows),
    expand(q3_rows),
    expand(q5_9b_rows),
    expand(q8_9b_rows),
    expand(llama_q5_rows, llama_q5_points),
    expand(llama_q8_rows, llama_q8_points),
]

# the browser only shows about 4096 px across (full 2974 px high), so
# horizontal sizes from the 4772 px reference are squeezed by SX
SX = 4096 / 4772
FS = 0.92
REF_W, REF_H = 4772, 2974
RML, RMR, RMT, RMB = 195, 981, 120, 184
W, H = 4096, REF_H
PW, PH = REF_W - RML - RMR, REF_H - RMT - RMB


def px_x(p):
    return (p - RML) / PW


def px_y(p):
    return (REF_H - RMB - p) / PH


FONT = "DejaVu Sans"
GRID = "#e6e6e6"

fig = go.Figure()
for name, color, (xs, ys) in zip(MODELS, COLORS, series):
    fig.add_trace(go.Scatter(
        x=xs, y=ys, mode="markers", name=name, showlegend=False,
        marker=dict(size=24, color=rgba(color, 0.7),
                    line=dict(width=3.6, color=rgba(color, 0.7))),
    ))

# legend drawn by hand so the markers keep their real size
shapes = [dict(type="rect", xref="paper", yref="paper",
               x0=px_x(3996), x1=px_x(4741), y0=px_y(624), y1=px_y(143),
               line=dict(color="#d5d5d5", width=3.3), fillcolor="white")]
annotations = []
for i, (name, color) in enumerate(zip(MODELS, COLORS)):
    yc = 189 + 75 * i
    shapes.append(dict(type="circle", xref="paper", yref="paper",
                       xsizemode="pixel", ysizemode="pixel",
                       xanchor=px_x(4066), yanchor=px_y(yc),
                       x0=-14, x1=14, y0=-14, y1=14,
                       fillcolor=rgba(color, 0.7),
                       line=dict(color=rgba(color, 0.7), width=3.6)))
    annotations.append(dict(text=name, xref="paper", yref="paper",
                            x=px_x(4155), y=px_y(yc + 2), xanchor="left", yanchor="middle",
                            showarrow=False, font=dict(family=FONT, size=42, color="black")))

annotations.append(dict(text="Duration (seconds)", xref="paper", yref="paper",
                        x=0.5, y=px_y(2908), xanchor="center", yanchor="middle",
                        showarrow=False, font=dict(family=FONT, size=67 * FS, color="black")))
annotations.append(dict(text="Total Accuracy", xref="paper", yref="paper",
                        x=px_x(60), y=0.5, xanchor="center", yanchor="middle",
                        textangle=-90, showarrow=False,
                        font=dict(family=FONT, size=67 * FS, color="black")))

fig.update_layout(
    width=W, height=H,
    margin=dict(l=RML * SX, r=RMR * SX, t=RMT, b=RMB),
    paper_bgcolor="white", plot_bgcolor="white",
    font=dict(family=FONT, color="black"),
    title=dict(text="Duration vs Total Accuracy by Model", x=0.5, xref="paper",
               xanchor="center", y=1 - 64 / REF_H, yref="container", yanchor="middle",
               font=dict(family=FONT, size=83 * FS, color="black")),
    shapes=shapes,
    annotations=annotations,
    showlegend=False,
)

fig.update_xaxes(
    type="log", range=[0.68079, 2.14301],
    tickvals=X_TICKS, ticktext=X_TICK_LABELS,
    ticks="outside", ticklen=15, tickwidth=3.3 * SX, tickcolor="black",
    tickfont=dict(family=FONT, size=42 * FS, color="black"),
    showgrid=True, gridcolor=GRID, gridwidth=3.3 * SX,
    minor=dict(tickvals=X_MINOR, ticks="outside", ticklen=8, tickwidth=2.5 * SX,
               tickcolor="black", showgrid=True, gridcolor=GRID, gridwidth=3.3 * SX),
    showline=True, linecolor="black", linewidth=3.3, mirror=True, zeroline=False,
)
fig.update_yaxes(
    range=[50.82, 97.18], tickvals=Y_TICKS,
    ticks="outside", ticklen=15 * SX, tickwidth=3.3, tickcolor="black",
    tickfont=dict(family=FONT, size=42 * FS, color="black"),
    showgrid=True, gridcolor=GRID, gridwidth=3.3,
    showline=True, linecolor="black", linewidth=3.3 * SX, mirror=True, zeroline=False,
)

fig.write_html("out.html", config={"displayModeBar": False},
               post_script="document.body.style.margin = '0';")
